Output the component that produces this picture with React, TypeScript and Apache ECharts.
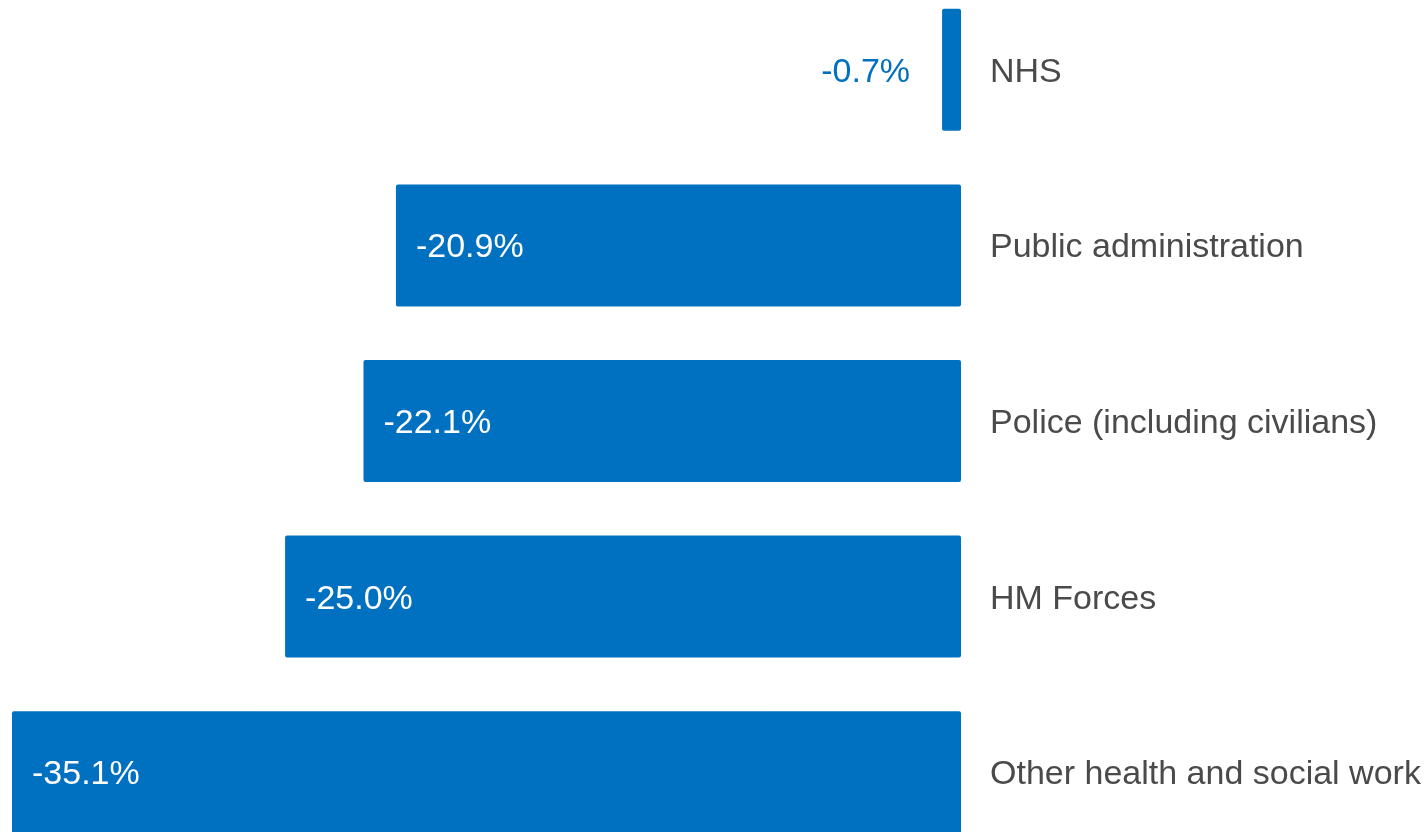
import React, { useEffect, useRef } from "react";
import * as echarts from "echarts";

const categories = [
  "NHS",
  "Public administration",
  "Police (including civilians)",
  "HM Forces",
  "Other health and social work",
];
const values = [-0.7, -20.9, -22.1, -25.0, -35.1];

export default function App() {
  const ref = useRef<HTMLDivElement>(null);
  useEffect(() => {
    if (!ref.current) return;
    const chart = echarts.init(ref.current, null, { renderer: "svg" });
    const font = "'Liberation Sans', Arial, sans-serif";
    chart.setOption({
      animation: false,
      grid: { left: 12, right: 465, top: 0, bottom: 0 },
      xAxis: {
        type: "value",
        min: -35.1,
        max: 0,
        show: false,
      },
      yAxis: {
        type: "category",
        data: categories,
        inverse: true,
        position: "right",
        axisLine: { show: false },
        axisTick: { show: false },
        splitLine: { show: false },
        axisLabel: {
          margin: 29,
          color: "#4a4a4a",
          fontSize: 34,
          fontFamily: font,
          align: "left",
        },
      },
      series: [
        {
          type: "bar",
          barCategoryGap: "30.5%",
          data: values.map((v, i) => ({
            value: v,
            label:
              i === 0
                ? {
                    show: true,
                    position: "left",
                    distance: 32,
                    color: "#0070C0",
                  }
                : undefined,
          })),
          itemStyle: { color: "#0070C0", borderRadius: 2 },
          label: {
            show: true,
            position: "insideLeft",
            distance: 20,
            color: "#ffffff",
            fontSize: 34,
            fontFamily: font,
            formatter: (p: any) => p.value.toFixed(1) + "%",
          },
        },
      ],
    });
    return () => chart.dispose();
  }, []);
  return (
    <div
      style={{
        position: "fixed",
        left: 0,
        top: 0,
        width: 1426,
        height: 832,
        overflow: "hidden",
      }}
    >
      <div
        ref={ref}
        style={{ position: "absolute", left: 0, top: -18, width: 1426, height: 878 }}
      />
    </div>
  );
}
